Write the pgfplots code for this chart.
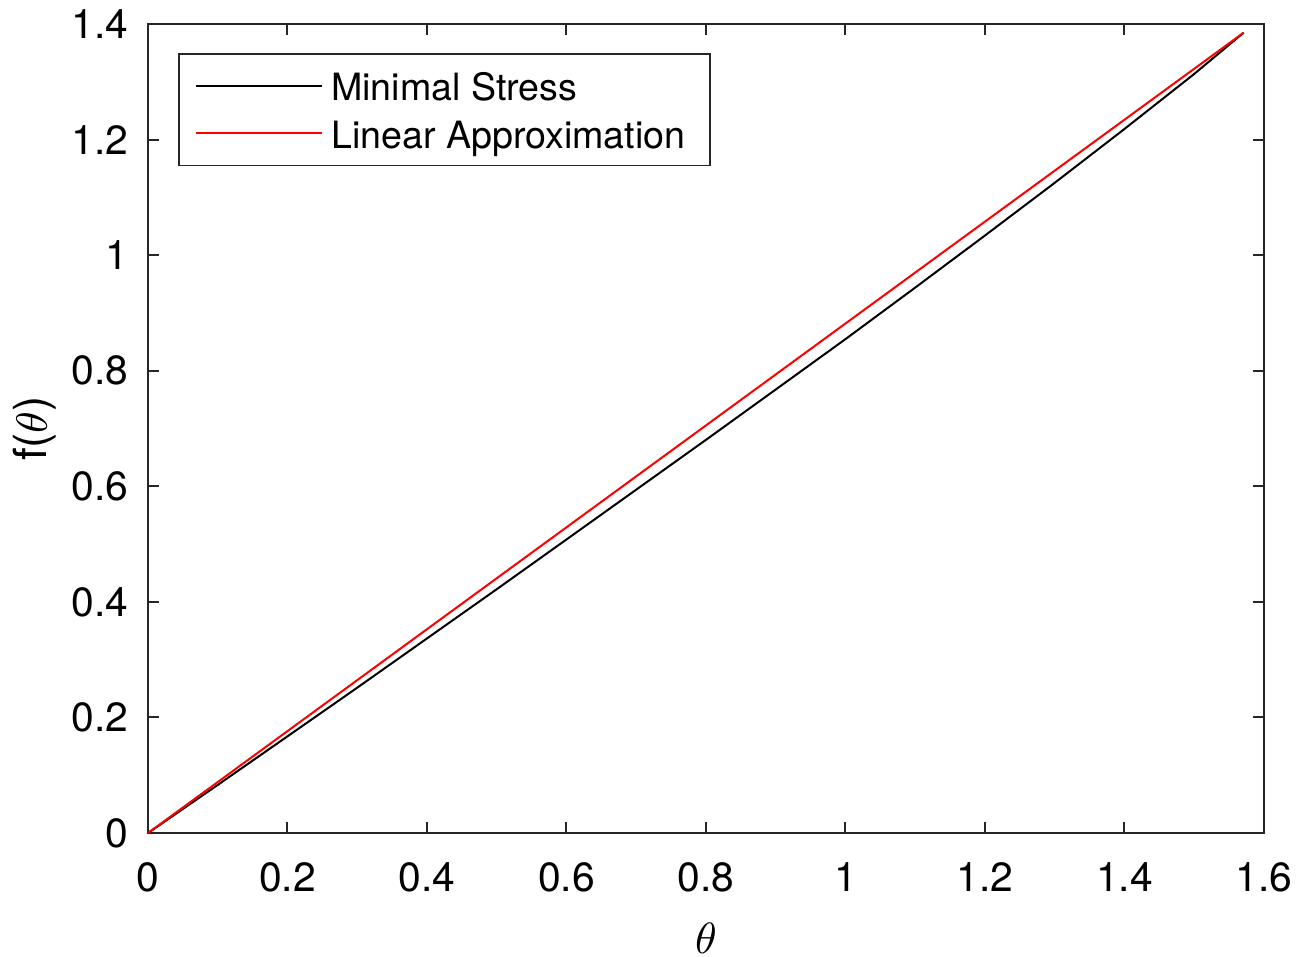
\documentclass[border=0pt]{standalone}
\usepackage{fontspec}
\setmainfont{TeX Gyre Heros}
\usepackage{pgfplots}
\pgfplotsset{compat=1.18}
\definecolor{axgray}{gray}{0.15}
\begin{document}
\begin{tikzpicture}
\begin{axis}[
  name=ax,
  scale only axis,
  width=279pt, height=202.25pt,
  xmin=0, xmax=1.6, ymin=0, ymax=1.4,
  xtick={0,0.2,...,1.6},
  ytick={0,0.2,...,1.4},
  /pgf/number format/assume math mode=true,
  xticklabel style={/pgf/number format/fixed, font=\fontsize{10.2}{12}\selectfont, yshift=-3.8pt},
  yticklabel style={/pgf/number format/fixed, font=\fontsize{10.2}{12}\selectfont, xshift=-1.3pt},
  tick align=inside,
  major tick length=2.75pt,
  axis line style={axgray, line width=0.5pt},
  every tick/.style={axgray, line width=0.5pt},
  xlabel={$\theta$},
  ylabel={f($\theta$)},
  xlabel style={font=\fontsize{11.4}{13}\selectfont, at={(axis description cs:0.5,-0.1298)}, anchor=center},
  ylabel style={font=\fontsize{11.4}{13}\selectfont, at={(axis description cs:-0.1013,0.5)}, anchor=center},
  legend style={at={(rel axis cs:0.0269,0.9641)}, anchor=north west,
    draw=axgray, line width=0.4pt, font=\fontsize{9.4}{11}\selectfont,
    inner xsep=4.1pt, inner ysep=1.95pt, row sep=-0.35pt,
    nodes={text height=7.75pt, text depth=0.45pt}},
  legend cell align=left,
  legend image code/.code={\draw[#1] (0pt,0pt) -- (31.5pt,0pt);},
]
\addplot[black, line width=0.5pt] coordinates {
(0,0) (0.1,0.0832) (0.2,0.1673) (0.3,0.2515) (0.4,0.3367) (0.5,0.4219)
(0.6,0.5080) (0.7,0.5942) (0.8,0.6804) (0.9,0.7675) (1.0,0.8547)
(1.1,0.9439) (1.2,1.0340) (1.3,1.1252) (1.4,1.2184) (1.5,1.3136) (1.5708,1.385)
};
\addlegendentry{Minimal Stress}
\addplot[red, line width=0.5pt] coordinates {(0,0) (1.5708,1.385)};
\addlegendentry{Linear Approximation}
\end{axis}
\pgfresetboundingbox
\path[use as bounding box] ([shift={(-37pt,-30.75pt)}]ax.south west) rectangle ([shift={(287.5pt,208.25pt)}]ax.south west);
\end{tikzpicture}
\end{document}
